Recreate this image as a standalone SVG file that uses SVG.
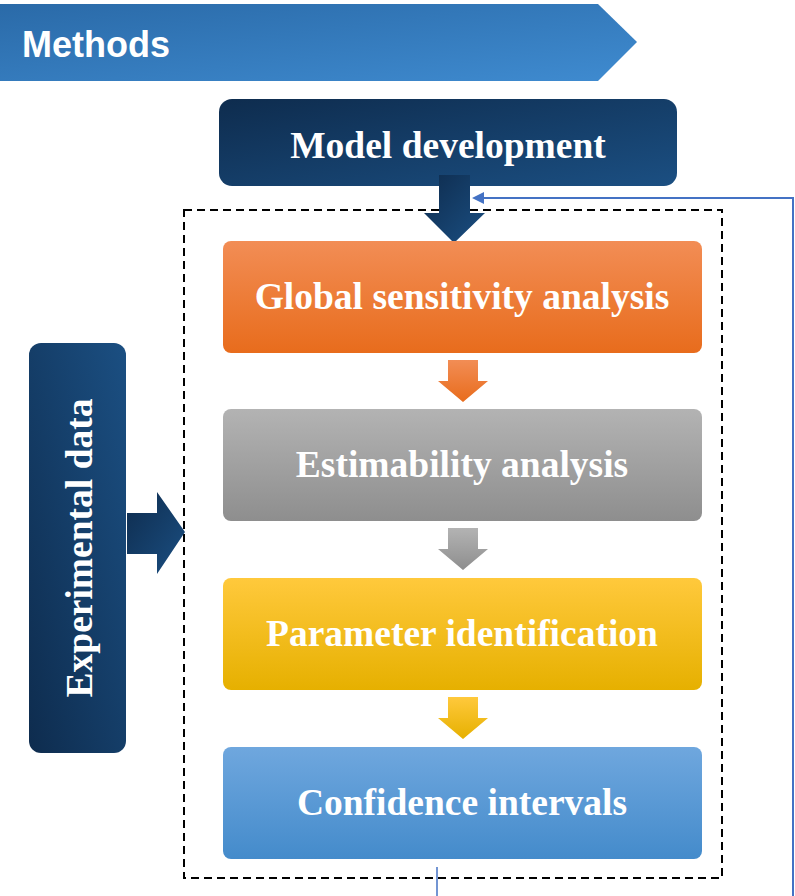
<svg xmlns="http://www.w3.org/2000/svg" width="795" height="896" viewBox="0 0 795 896">
<defs>
<linearGradient id="gBanner" x1="0" y1="0" x2="1" y2="1"><stop offset="0" stop-color="#2a6aa8"/><stop offset="1" stop-color="#3f8bd0"/></linearGradient>
<linearGradient id="gNavy" x1="0" y1="0" x2="1" y2="1"><stop offset="0" stop-color="#0e2c4e"/><stop offset="1" stop-color="#1b4f82"/></linearGradient>
<linearGradient id="gNavyV" x1="0" y1="1" x2="1" y2="0"><stop offset="0" stop-color="#0e2c4e"/><stop offset="1" stop-color="#1b4f82"/></linearGradient>
<linearGradient id="gOrange" x1="0" y1="0" x2="0" y2="1"><stop offset="0" stop-color="#f28d55"/><stop offset="1" stop-color="#e86c1c"/></linearGradient>
<linearGradient id="gGray" x1="0" y1="0" x2="0" y2="1"><stop offset="0" stop-color="#b3b3b3"/><stop offset="1" stop-color="#8e8e8e"/></linearGradient>
<linearGradient id="gYellow" x1="0" y1="0" x2="0" y2="1"><stop offset="0" stop-color="#ffc93c"/><stop offset="1" stop-color="#e6b000"/></linearGradient>
<linearGradient id="gBlue" x1="0" y1="0" x2="0" y2="1"><stop offset="0" stop-color="#6fa7de"/><stop offset="1" stop-color="#448bcb"/></linearGradient>
<style>
.t{font-family:"Liberation Serif","Times New Roman",serif;font-weight:bold;fill:#fff;font-size:37.5px;text-anchor:middle}
.conn{fill:none;stroke:#4472c4;stroke-width:2}
</style>
</defs>
<g id="banner">
<polygon points="0,4 598,4 637,42 598,81 0,81" fill="url(#gBanner)"/>
<text x="22" y="57" font-family="Liberation Sans, Arial, sans-serif" font-weight="bold" font-size="36" fill="#fff">Methods</text>
</g>
<g id="connectors">
<polyline class="conn" points="793,896 793,198 483,198"/>
<polygon points="472,198 484,192 484,204" fill="#4472c4"/>
<line x1="437" y1="867" x2="437" y2="896" stroke="#4472c4" stroke-width="1.5"/>
<rect x="184" y="210" width="538" height="668" fill="none" stroke="#000" stroke-width="2" stroke-dasharray="8 5"/>
</g>
<g id="model">
<rect x="219" y="99" width="458" height="87" rx="13" fill="url(#gNavy)"/>
<text class="t" x="448" y="158">Model development</text>
</g>
<g id="arrow-model">
<polygon points="439,175 470,175 470,213 485,213 454,243 424,213 439,213" fill="url(#gNavy)"/>
</g>
<g id="gsa">
<rect x="223" y="241" width="479" height="112" rx="8" fill="url(#gOrange)"/>
<text class="t" x="462" y="309">Global sensitivity analysis</text>
</g>
<g id="arrow1"><polygon points="448,360 478,360 478,381 488,381 463,402 438,381 448,381" fill="url(#gOrange)"/></g>
<g id="est">
<rect x="223" y="409" width="479" height="112" rx="8" fill="url(#gGray)"/>
<text class="t" x="462" y="477">Estimability analysis</text>
</g>
<g id="arrow2"><polygon points="448,528 478,528 478,549 488,549 463,570 438,549 448,549" fill="url(#gGray)"/></g>
<g id="param">
<rect x="223" y="578" width="479" height="112" rx="8" fill="url(#gYellow)"/>
<text class="t" x="462" y="646">Parameter identification</text>
</g>
<g id="arrow3"><polygon points="448,697 478,697 478,718 488,718 463,739 438,718 448,718" fill="url(#gYellow)"/></g>
<g id="ci">
<rect x="223" y="747" width="479" height="112" rx="8" fill="url(#gBlue)"/>
<text class="t" x="462" y="815">Confidence intervals</text>
</g>
<g id="expdata">
<rect x="29" y="343" width="97" height="410" rx="12" fill="url(#gNavyV)"/>
<text class="t" transform="translate(92,548) rotate(-90)" x="0" y="0">Experimental data</text>
</g>
<g id="arrow-exp">
<polygon points="127,513 157,513 157,492 185,532 157,574 157,554 127,554" fill="url(#gNavy)"/>
</g>
</svg>
